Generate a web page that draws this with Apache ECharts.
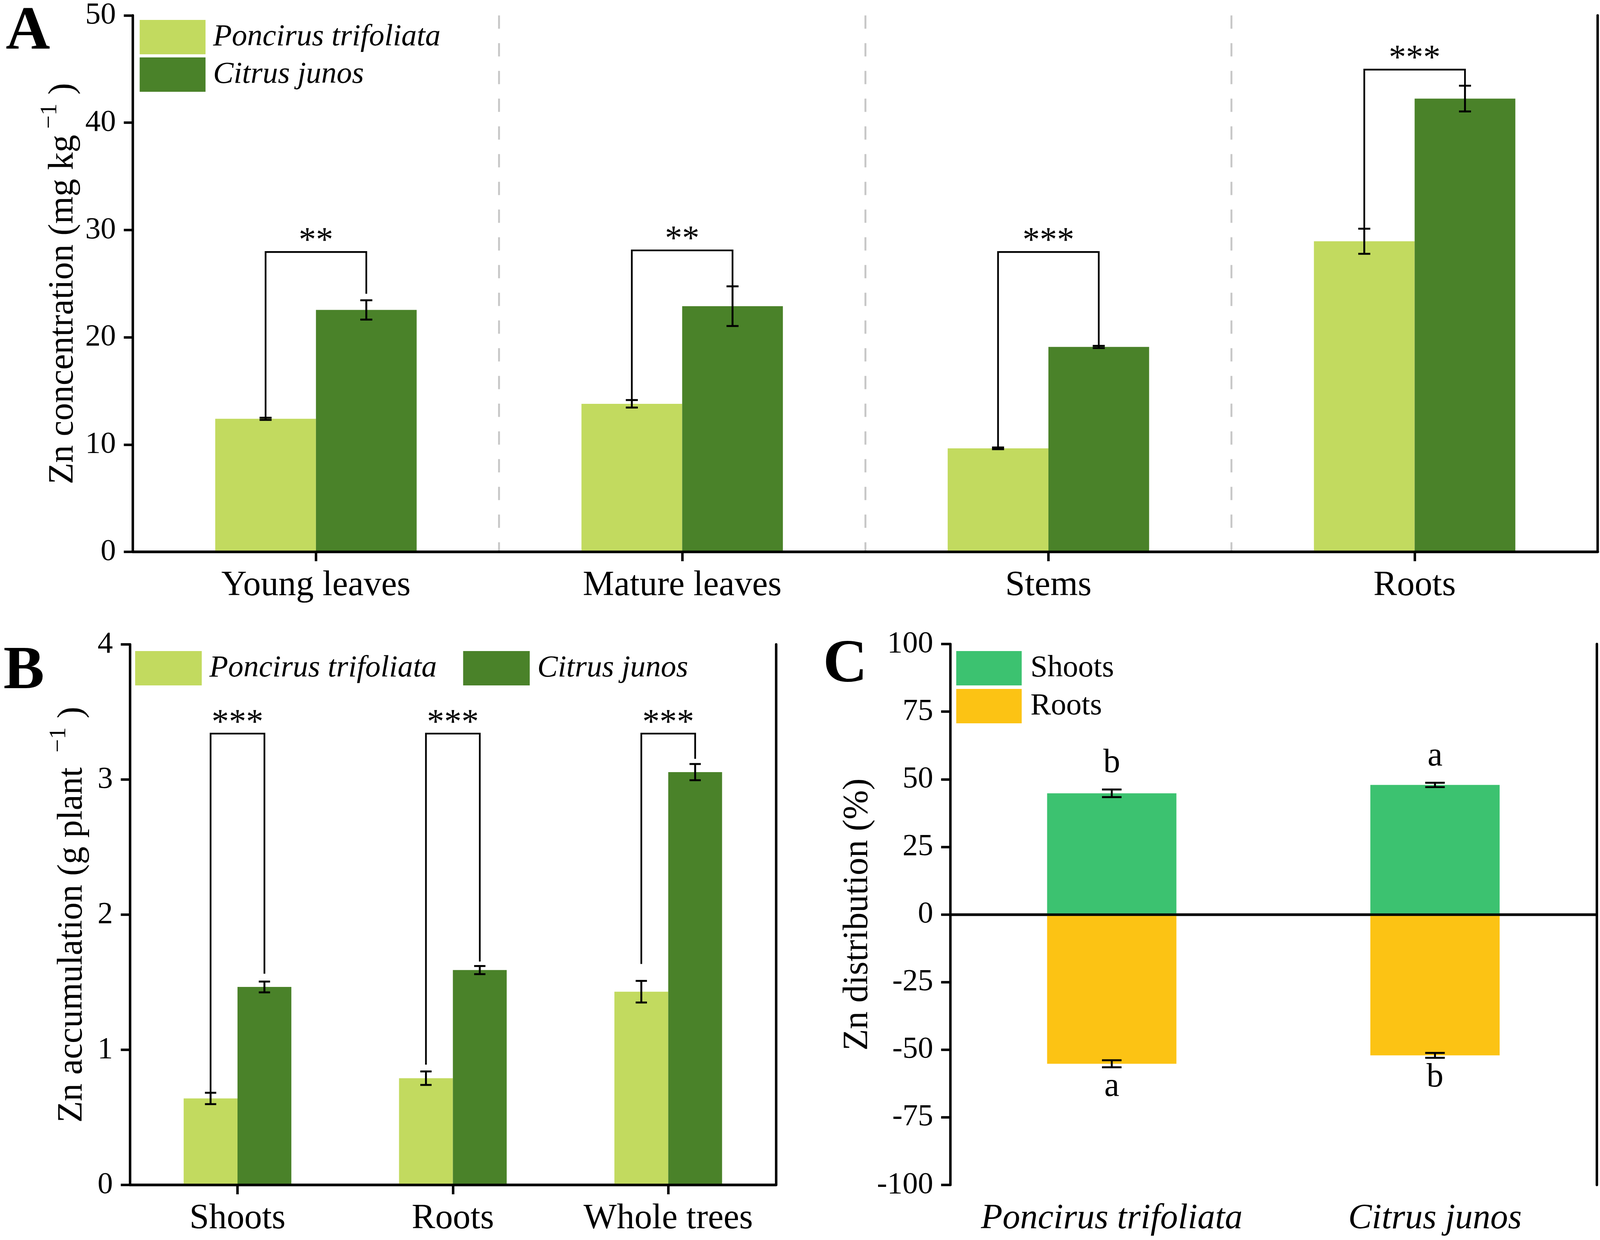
<!DOCTYPE html>
<html>
<head>
<meta charset="UTF-8">
<title>Zn concentration, accumulation and distribution</title>
<script src="https://cdn.jsdelivr.net/npm/echarts@6/dist/echarts.min.js"></script>
<style>
    html, body { margin: 0; padding: 0; background: #fff; overflow: hidden; }
    #chart { width: 100vw; height: 100vh; }
</style>
</head>
<body>
<div id="chart"></div>
<script>
    // A: Zn concentration (mg kg-1)
    let tissuesA = ['Young leaves', 'Mature leaves', 'Stems', 'Roots'];
    let yTicksA = [0, 10, 20, 30, 40, 50];
    let ptA = [12.4, 13.8, 9.65, 28.95];
    let ptAErr = [0.1, 0.35, 0.08, 1.17];
    let cjA = [22.55, 22.9, 19.1, 42.25];
    let cjAErr = [0.9, 1.85, 0.1, 1.2];
    let sigA = ['**', '**', '***', '***'];
    let bracketTopA = [27.95, 28.1, 27.95, 44.95];
    let bracketLeftA = [12.5, 14.15, 9.75, 30.1];
    let bracketRightA = [24.05, 24.75, 19.2, 43.45];

    // B: Zn accumulation (g plant-1)
    let partsB = ['Shoots', 'Roots', 'Whole trees'];
    let yTicksB = [0, 1, 2, 3, 4];
    let ptB = [0.64, 0.79, 1.43];
    let ptBErr = [0.042, 0.05, 0.08];
    let cjB = [1.465, 1.59, 3.055];
    let cjBErr = [0.04, 0.03, 0.06];
    let sigB = ['***', '***', '***'];
    let bracketTopB = [3.34, 3.34, 3.34];
    let bracketLeftB = [0.68, 0.89, 1.635];
    let bracketRightB = [1.563, 1.653, 3.153];

    // C: Zn distribution (%), roots drawn below zero
    let speciesC = ['Poncirus trifoliata', 'Citrus junos'];
    let yTicksC = [-100, -75, -50, -25, 0, 25, 50, 75, 100];
    let shootsC = [44.8, 47.9];
    let shootsCErr = [1.4, 0.8];
    let rootsC = [-55.2, -52.1];
    let rootsCErr = [1.3, 0.9];
    let lettersShoots = ['b', 'a'];
    let lettersRoots = ['a', 'b'];

    const FONT = '"Liberation Serif", "Times New Roman", serif';
    const PT_COLOR = '#c2da5f';
    const CJ_COLOR = '#4a8229';
    const SHOOT_COLOR = '#3cc270';
    const ROOT_COLOR = '#fcc314';

    let chart = echarts.init(document.getElementById('chart'));
    // layout was measured on a 4252 x 3175 figure; scale to the real viewport
    let sx = chart.getWidth() / 4252, sy = chart.getHeight() / 3175;
    let s = Math.sqrt(sx * sy);
    let X = v => v * sx, Y = v => v * sy, S = v => v * s;

    function leftAxis(gi, ticks, name, gap) {
        return {
            type: 'value', gridIndex: gi, z: 3,
            min: ticks[0], max: ticks[ticks.length - 1], interval: ticks[1] - ticks[0],
            name: name, nameLocation: 'middle', nameGap: X(gap),
            nameTextStyle: {
                rich: {
                    a: { fontFamily: FONT, fontSize: S(92), color: '#000', lineHeight: S(112), verticalAlign: 'bottom' },
                    s: { fontFamily: FONT, fontSize: S(62), color: '#000', verticalAlign: 'top' }
                }
            },
            axisLine: { show: true, lineStyle: { color: '#000', width: S(6.5) } },
            axisTick: { show: true, length: X(24), lineStyle: { color: '#000', width: S(6.5) } },
            axisLabel: { fontFamily: FONT, fontSize: S(80), color: '#000', margin: X(45) },
            splitLine: { show: false }
        };
    }
    // right and top axes only close the frame
    function rightAxis(gi, ticks) {
        return {
            type: 'value', gridIndex: gi, position: 'right', z: 3,
            min: ticks[0], max: ticks[ticks.length - 1],
            axisLine: { show: true, lineStyle: { color: '#000', width: S(6.5) } },
            axisTick: { show: false }, axisLabel: { show: false }, splitLine: { show: false }
        };
    }
    function bottomAxis(gi, cats, italic, split) {
        return {
            type: 'category', gridIndex: gi, data: cats,
            axisLine: { show: true, lineStyle: { color: '#000', width: S(6.5) } },
            axisTick: { show: true, alignWithLabel: true, length: Y(24), lineStyle: { color: '#000', width: S(6.5) } },
            axisLabel: {
                interval: 0, fontFamily: FONT, fontSize: S(92), color: '#000', margin: Y(42),
                fontStyle: italic ? 'italic' : 'normal'
            },
            splitLine: {
                show: split,
                lineStyle: { color: '#c8c8c8', width: S(5), type: [Y(34), Y(37)] }
            }
        };
    }
    function topAxis(gi, cats) {
        return {
            type: 'category', gridIndex: gi, data: cats, position: 'top', z: 3,
            axisLine: { show: true, lineStyle: { color: '#000', width: S(6.5) } },
            axisTick: { show: false }, axisLabel: { show: false }, splitLine: { show: false }
        };
    }

    function errorBars(values, errors, shift, cap, ai) {
        return {
            type: 'custom', xAxisIndex: ai, yAxisIndex: ai, z: 5, silent: true,
            data: values.map((v, i) => [i, v, errors[i]]),
            renderItem: function (params, api) {
                let i = api.value(0), v = api.value(1), e = api.value(2);
                let band = api.size([1, 0])[0];
                let x = api.coord([i, v])[0] + shift * band;
                let yHi = api.coord([i, v + e])[1];
                let yLo = api.coord([i, v - e])[1];
                let st = { stroke: '#000', lineWidth: S(5) };
                let c = X(cap) / 2;
                return {
                    type: 'group', children: [
                        { type: 'line', shape: { x1: x, y1: yHi, x2: x, y2: yLo }, style: st },
                        { type: 'line', shape: { x1: x - c, y1: yHi, x2: x + c, y2: yHi }, style: st },
                        { type: 'line', shape: { x1: x - c, y1: yLo, x2: x + c, y2: yLo }, style: st }
                    ]
                };
            }
        };
    }

    function brackets(tops, lefts, rights, stars, shift, ai) {
        return {
            type: 'custom', xAxisIndex: ai, yAxisIndex: ai, z: 5, silent: true,
            data: tops.map((t, i) => [i, t, lefts[i], rights[i]]),
            renderItem: function (params, api) {
                let i = api.value(0);
                let band = api.size([1, 0])[0];
                let cx = api.coord([i, api.value(1)])[0];
                let xl = cx - shift * band, xr = cx + shift * band;
                let yt = api.coord([i, api.value(1)])[1];
                let yl = api.coord([i, api.value(2)])[1];
                let yr = api.coord([i, api.value(3)])[1];
                return {
                    type: 'group', children: [
                        {
                            type: 'polyline',
                            shape: { points: [[xl, yl], [xl, yt], [xr, yt], [xr, yr]] },
                            style: { stroke: '#000', lineWidth: S(4.5), fill: null }
                        },
                        {
                            type: 'text', x: cx, y: yt + Y(18),
                            style: { text: stars[i], fill: '#000', font: S(90) + 'px ' + FONT, textAlign: 'center', textVerticalAlign: 'bottom' }
                        }
                    ]
                };
            }
        };
    }

    function letters(values, errors, labels, above) {
        return {
            type: 'custom', xAxisIndex: 4, yAxisIndex: 4, z: 5, silent: true,
            data: values.map((v, i) => [i, v, errors[i]]),
            renderItem: function (params, api) {
                let i = api.value(0), v = api.value(1), e = api.value(2);
                let p = api.coord([i, above ? v + e : v - e]);
                return {
                    type: 'text', x: p[0], y: above ? p[1] - Y(24) : p[1] + Y(8),
                    style: {
                        text: labels[i], fill: '#000', font: S(88) + 'px ' + FONT, textAlign: 'center',
                        textVerticalAlign: above ? 'bottom' : 'top'
                    }
                };
            }
        };
    }

    let legendText = { fontFamily: FONT, fontSize: S(80), color: '#000', fontStyle: 'italic', padding: [0, 0, 0, X(15)] };
    let letterStyle = { fontFamily: FONT, fontSize: S(160), fontWeight: 'bold', color: '#000' };

    let option = {
        animation: false,
        backgroundColor: '#fff',
        title: [
            { text: 'A', left: X(10), top: Y(0), textStyle: letterStyle },
            { text: 'B', left: X(4), top: Y(1638), textStyle: letterStyle },
            { text: 'C', left: X(2182), top: Y(1620), textStyle: letterStyle }
        ],
        legend: [
            {
                data: ['Poncirus trifoliata', 'Citrus junos'], orient: 'vertical',
                left: X(366), top: Y(46), itemWidth: X(175), itemHeight: Y(88), itemGap: Y(8), icon: 'rect',
                textStyle: legendText, selectedMode: false
            },
            {
                data: ['Poncirus trifoliata', 'Citrus junos'], orient: 'horizontal',
                left: X(354), top: Y(1662), itemWidth: X(177), itemHeight: Y(88), itemGap: X(70), icon: 'rect',
                textStyle: legendText, selectedMode: false
            },
            {
                data: ['Shoots', 'Roots'], orient: 'vertical',
                left: X(2536), top: Y(1662), itemWidth: X(174), itemHeight: Y(88), itemGap: Y(9), icon: 'rect',
                textStyle: Object.assign({}, legendText, { fontStyle: 'normal', padding: [0, 0, 0, X(18)] }), selectedMode: false
            }
        ],
        grid: [
            { left: X(353), top: Y(34), width: X(3893), height: Y(1379) },
            { left: X(345), top: Y(1650), width: X(1717), height: Y(1384) },
            { left: X(2525), top: Y(1649), width: X(1718), height: Y(1385) }
        ],
        xAxis: [
            bottomAxis(0, tissuesA, false, true), topAxis(0, tissuesA),
            bottomAxis(1, partsB, false, false), topAxis(1, partsB),
            bottomAxis(2, speciesC, true, false), topAxis(2, speciesC)
        ],
        yAxis: [
            leftAxis(0, yTicksA, '{a|Zn concentration (mg kg}{s| \u22121}{a| )}', 130), rightAxis(0, yTicksA),
            leftAxis(1, yTicksB, '{a|Zn accumulation (g plant }{s| \u22121}{a| )}', 106), rightAxis(1, yTicksB),
            leftAxis(2, yTicksC, '{a|Zn distribution (%)}', 150), rightAxis(2, yTicksC)
        ],
        series: [
            { name: 'Poncirus trifoliata', type: 'bar', xAxisIndex: 0, yAxisIndex: 0, data: ptA, barWidth: '27.5%', barGap: '0%', itemStyle: { color: PT_COLOR } },
            { name: 'Citrus junos', type: 'bar', xAxisIndex: 0, yAxisIndex: 0, data: cjA, barWidth: '27.5%', barGap: '0%', itemStyle: { color: CJ_COLOR } },
            errorBars(ptA, ptAErr, -0.1375, 32, 0),
            errorBars(cjA, cjAErr, 0.1375, 32, 0),
            brackets(bracketTopA, bracketLeftA, bracketRightA, sigA, 0.1375, 0),

            { name: 'Poncirus trifoliata', type: 'bar', xAxisIndex: 2, yAxisIndex: 2, data: ptB, barWidth: '25%', barGap: '0%', itemStyle: { color: PT_COLOR } },
            { name: 'Citrus junos', type: 'bar', xAxisIndex: 2, yAxisIndex: 2, data: cjB, barWidth: '25%', barGap: '0%', itemStyle: { color: CJ_COLOR } },
            errorBars(ptB, ptBErr, -0.125, 30, 2),
            errorBars(cjB, cjBErr, 0.125, 30, 2),
            brackets(bracketTopB, bracketLeftB, bracketRightB, sigB, 0.125, 2),

            {
                name: 'Shoots', type: 'bar', xAxisIndex: 4, yAxisIndex: 4, stack: 'dist', data: shootsC, barWidth: '40%',
                itemStyle: { color: SHOOT_COLOR },
                markLine: {
                    silent: true, symbol: 'none', label: { show: false },
                    lineStyle: { color: '#000', width: S(6), type: 'solid' },
                    data: [{ yAxis: 0 }]
                }
            },
            { name: 'Roots', type: 'bar', xAxisIndex: 4, yAxisIndex: 4, stack: 'dist', data: rootsC, barWidth: '40%', itemStyle: { color: ROOT_COLOR } },
            errorBars(shootsC, shootsCErr, 0, 52, 4),
            errorBars(rootsC, rootsCErr, 0, 52, 4),
            letters(shootsC, shootsCErr, lettersShoots, true),
            letters(rootsC, rootsCErr, lettersRoots, false)
        ]
    };
    chart.setOption(option);
</script>
</body>
</html>
